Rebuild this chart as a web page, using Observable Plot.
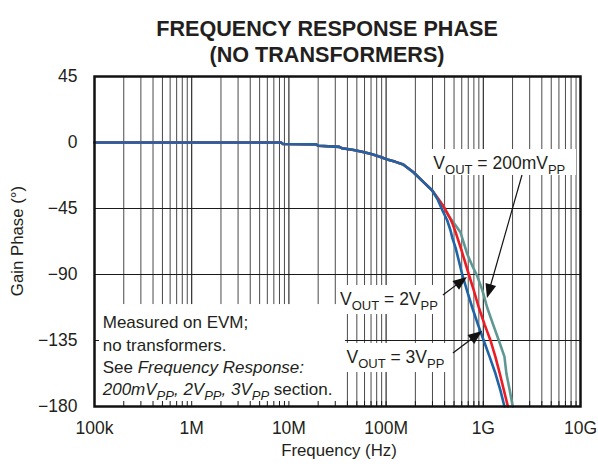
<!DOCTYPE html>
<html><head><meta charset="utf-8">
<script src="https://cdn.jsdelivr.net/npm/d3@7"></script>
<script src="https://cdn.jsdelivr.net/npm/@observablehq/plot@0.6"></script>
<style>
body{margin:0;background:#fff;font-family:"Liberation Sans",Arial,Helvetica,sans-serif;}
#title{width:598px;height:68px;box-sizing:border-box;padding-top:15.6px;padding-left:56px;text-align:center;font-weight:bold;font-size:21.6px;line-height:26.5px;color:#231f20;}
</style></head><body>
<div id="title">FREQUENCY RESPONSE PHASE<br>(NO TRANSFORMERS)</div>
<div id="chart"></div>
<script>
// ---- axis ticks ----
const decades = [1e5, 1e6, 1e7, 1e8, 1e9, 1e10];
const decadeLabels = ["100k", "1M", "10M", "100M", "1G", "10G"];
const minorMultipliers = [2, 3, 4, 5, 6, 7, 8, 9];
const phaseTicks = [45, 0, -45, -90, -135, -180];
const phaseGrid = [-45, -90, -135];

// ---- series: VOUT = 3VPP (blue) ----
const freqBlue = [1e5, 8.3e6, 8.7e6, 1.9e7, 2.0e7, 3.3e7, 3.5e7, 4.5e7, 5.5e7, 6.9e7, 8.5e7, 1.03e8, 1.25e8, 1.5e8, 1.91e8, 2.43e8, 2.98e8, 3.4e8, 3.78e8, 4.25e8, 4.6e8, 4.8e8, 5.2e8, 6.07e8, 6.8e8, 7.69e8, 8.8e8, 1.01e9, 1.16e9, 1.336e9, 1.5e9, 1.65e9];
const phaseBlue = [0, 0, -1, -1.3, -2.2, -3, -3.9, -5, -6.2, -7.7, -9.5, -11.6, -13.2, -15, -20.3, -27, -32.7, -39, -46, -53, -60, -65, -72, -90, -101, -112.5, -124, -135, -146, -157.7, -169, -180];

// ---- series: VOUT = 2VPP (red) ----
const freqRed = [1e5, 8.3e6, 8.7e6, 1.9e7, 2.0e7, 3.3e7, 3.5e7, 4.5e7, 5.5e7, 6.9e7, 8.5e7, 1.03e8, 1.25e8, 1.5e8, 1.91e8, 2.43e8, 2.98e8, 3.4e8, 3.93e8, 4.5e8, 4.8e8, 5.18e8, 6.0e8, 7.1e8, 8.0e8, 8.99e8, 1.03e9, 1.186e9, 1.33e9, 1.48e9, 1.63e9, 1.79e9];
const phaseRed = [0, 0, -1, -1.3, -2.2, -3, -3.9, -5, -6.2, -7.7, -9.5, -11.6, -13.2, -15, -20.3, -27, -32.7, -38, -44, -51, -55, -61, -74, -90, -101, -112.5, -124, -135, -146, -157.7, -169, -180];

// ---- series: VOUT = 200mVPP (teal) ----
const freqTeal = [1e5, 8.3e6, 8.7e6, 1.9e7, 2.0e7, 3.3e7, 3.5e7, 4.5e7, 5.5e7, 6.9e7, 8.5e7, 1.03e8, 1.25e8, 1.5e8, 1.91e8, 2.43e8, 2.98e8, 3.4e8, 3.93e8, 4.5e8, 5.0e8, 5.8e8, 6.83e8, 7.7e8, 8.66e8, 9.8e8, 1.096e9, 1.26e9, 1.445e9, 1.65e9, 1.73e9, 1.87e9, 2.01e9];
const phaseTeal = [0, 0, -1, -1.3, -2.2, -3, -3.9, -5, -6.2, -7.7, -9.5, -11.6, -13.2, -15, -20.3, -27, -32.7, -38, -44, -51, -55, -61, -76, -84, -91, -101, -112.5, -124, -135, -146, -157.7, -169, -180];

// ---- annotations (data coordinates) ----
const boxFreq1 = [1e5, 3.09e7, 3.56e7, 2.73e8];
const boxFreq2 = [3.82e7, 3.99e8, 4.82e8, 9.1e9];
const boxPhase1 = [-110.5, -97.5, -137, -4.8];
const boxPhase2 = [-180, -117.3, -156.8, -22.5];

const arrowFrom = [[2.53e9, -22.5], [3.89e8, -104.3], [4.93e8, -143.9]];
const arrowTo = [[1.104e9, -106.4], [6.87e8, -92], [9.82e8, -128.9]];

const labelPos = [[3.1e8, -18.4], [3.4e7, -110.8], [3.96e7, -150.7]];
const labelValue = ["200mV", "2V", "3V"];

const noteFreq = 1.23e5;
const notePhase = [-126.8, -142.2, -157.5, -172.8];

// build tables
const mk = (fs, ps) => fs.map((f, i) => ({f, p: ps[i]}));
const blue = mk(freqBlue, phaseBlue), red = mk(freqRed, phaseRed), teal = mk(freqTeal, phaseTeal);
const boxes = boxFreq1.map((f, i) => ({x1: f, x2: boxFreq2[i], y1: boxPhase1[i], y2: boxPhase2[i]}));
const minors = decades.slice(0, -1).flatMap(d => minorMultipliers.map(m => d * m));
const allGrid = decades.concat(minors);

const FONT = "Liberation Sans, Arial, Helvetica, sans-serif";
const plot = Plot.plot({
  width: 598, height: 398,
  marginLeft: 94, marginRight: 18, marginTop: 8, marginBottom: 60,
  style: {fontFamily: FONT, fontSize: "17.5px", color: "#231f20", background: "white", overflow: "visible"},
  x: {type: "log", domain: [1e5, 1e10], ticks: decades, tickFormat: d => decadeLabels[decades.findIndex(v => Math.abs(v - d) / v < 1e-6)], tickSize: 0, tickPadding: 15, label: null},
  y: {domain: [-180, 45], ticks: phaseTicks, tickSize: 0, tickPadding: 17, label: null, tickFormat: d => d < 0 ? "\u2212" + (-d) : String(d)},
  marks: [
    Plot.ruleX(minors, {stroke: "#4a4a4a", strokeWidth: 1}),
    Plot.ruleX(decades.slice(1, -1), {stroke: "#1a1a1a", strokeWidth: 1.1}),
    Plot.ruleY(phaseGrid, {stroke: "#1a1a1a", strokeWidth: 1.1}),
    Plot.rect(boxes, {x1: "x1", x2: "x2", y1: "y1", y2: "y2", fill: "white"}),
    Plot.ruleX(allGrid, {insetTop: 325, stroke: "#1a1a1a", strokeWidth: 1}),
    Plot.ruleY(phaseGrid, {insetRight: 481, stroke: "#1a1a1a", strokeWidth: 1}),
    Plot.line(teal, {x: "f", y: "p", stroke: "#5f9893", strokeWidth: 2.6}),
    Plot.line(red, {x: "f", y: "p", stroke: "#ec1c24", strokeWidth: 2.6}),
    Plot.line(blue, {x: "f", y: "p", stroke: "#1f64a6", strokeWidth: 2.6}),
    Plot.frame({stroke: "#111", strokeWidth: 2.5})
  ]
});
document.getElementById("chart").appendChild(plot);

const sx = plot.scale("x"), sy = plot.scale("y");
const X = v => sx.apply(v), Y = v => sy.apply(v);
const svg = d3.select(plot);
const g = svg.append("g").attr("font-family", FONT).attr("fill", "#231f20").attr("text-anchor", "start");

// arrows
arrowFrom.forEach((a, i) => {
  const x1 = X(a[0]), y1 = Y(a[1]), x2 = X(arrowTo[i][0]), y2 = Y(arrowTo[i][1]);
  const dx = x2 - x1, dy = y2 - y1, L = Math.hypot(dx, dy), ux = dx / L, uy = dy / L;
  const hl = 14, hw = 5.5;
  const bx = x2 - ux * hl, by = y2 - uy * hl;
  g.append("line").attr("x1", x1).attr("y1", y1).attr("x2", bx + ux * 2).attr("y2", by + uy * 2)
    .attr("stroke", "#111").attr("stroke-width", 1.2);
  g.append("path").attr("d", `M${x2},${y2}L${bx - uy * hw},${by + ux * hw}L${bx + uy * hw},${by - ux * hw}Z`).attr("fill", "#111");
});

// rich text helper
function rich(x, y, segs, size) {
  const t = g.append("text").attr("x", x).attr("y", y).attr("font-size", size).attr("text-anchor", "start");
  let off = 0;
  segs.forEach(s => {
    const target = s.sub ? 5 : 0;
    const ts = t.append("tspan").text(s.t).attr("dy", target - off);
    off = target;
    if (s.sub) ts.attr("font-size", 13);
    if (s.it) ts.attr("font-style", "italic");
  });
  return t;
}
labelPos.forEach((p, i) => {
  rich(X(p[0]), Y(p[1]), [{t: "V"}, {t: "OUT", sub: 1}, {t: " = " + labelValue[i]}, {t: "PP", sub: 1}], 17.5);
});
const nx = X(noteFreq);
rich(nx, Y(notePhase[0]), [{t: "Measured on EVM;"}], 17);
rich(nx, Y(notePhase[1]), [{t: "no transformers."}], 17);
rich(nx, Y(notePhase[2]), [{t: "See "}, {t: "Frequency Response:", it: 1}], 17);
rich(nx, Y(notePhase[3]), [{t: "200mV", it: 1}, {t: "PP", sub: 1, it: 1}, {t: ", 2V", it: 1}, {t: "PP", sub: 1, it: 1}, {t: ", 3V", it: 1}, {t: "PP", sub: 1, it: 1}, {t: " section."}], 17);

// axis titles
g.append("text").attr("x", 339).attr("y", 388).attr("text-anchor", "middle").attr("font-size", 16.8).text("Frequency (Hz)");
g.append("text").attr("transform", "translate(23,173) rotate(-90)").attr("text-anchor", "middle").attr("font-size", 16.8).text("Gain Phase (\u00b0)");
</script>
</body></html>
